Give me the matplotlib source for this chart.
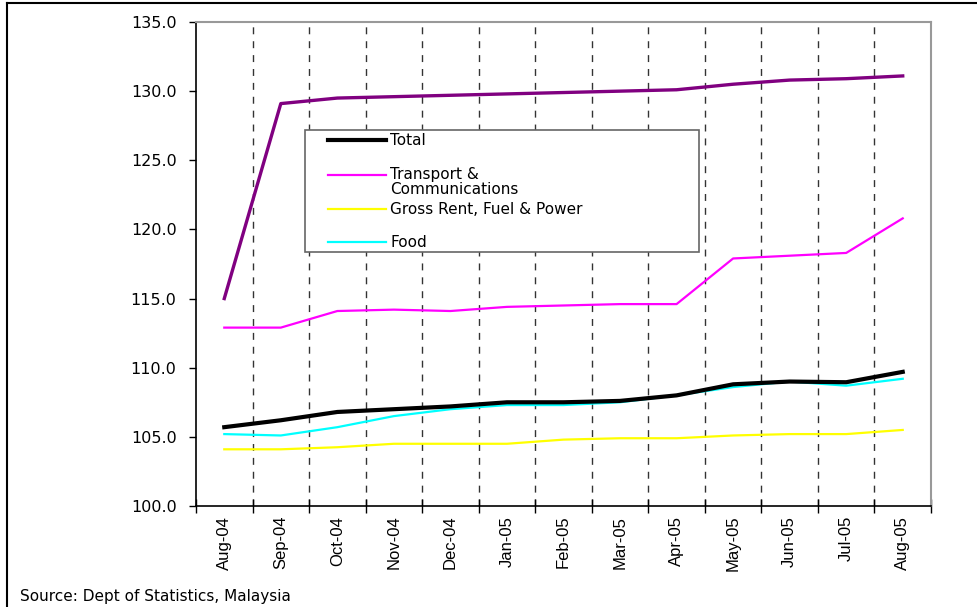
import matplotlib

matplotlib.use("Agg")
import matplotlib.pyplot as plt
from matplotlib.lines import Line2D
from matplotlib.patches import Rectangle
import numpy as np

months = ["Aug-04", "Sep-04", "Oct-04", "Nov-04", "Dec-04", "Jan-05", "Feb-05",
          "Mar-05", "Apr-05", "May-05", "Jun-05", "Jul-05", "Aug-05"]

purple = [115.0, 129.1, 129.5, 129.6, 129.7, 129.8, 129.9, 130.0, 130.1, 130.5, 130.8, 130.9, 131.1]
transport = [112.9, 112.9, 114.1, 114.2, 114.1, 114.4, 114.5, 114.6, 114.6, 117.9, 118.1, 118.3, 120.8]
total = [105.7, 106.2, 106.8, 107.0, 107.2, 107.5, 107.5, 107.6, 108.0, 108.8, 109.0, 108.95, 109.7]
food = [105.2, 105.1, 105.7, 106.5, 107.0, 107.3, 107.3, 107.5, 108.0, 108.6, 109.0, 108.7, 109.2]
rent = [104.1, 104.1, 104.25, 104.5, 104.5, 104.5, 104.8, 104.9, 104.9, 105.1, 105.2, 105.2, 105.5]

legend_labels = ["Total", "Transport &\nCommunications", "Gross Rent, Fuel & Power", "Food"]

plt.rcParams["font.family"] = ["DejaVu Sans"]

W, H = 977, 607
fig = plt.figure(figsize=(W / 100, H / 100), dpi=100)
ax = fig.add_axes([196 / W, (H - 506) / H, (931 - 196) / W, (506 - 22) / H])

x = np.arange(len(months))
ax.plot(x, purple, color="#800080", lw=2.4)
ax.plot(x, transport, color="#FF00FF", lw=1.6)
ax.plot(x, rent, color="#FFFF00", lw=1.6)
ax.plot(x, food, color="#00FFFF", lw=1.6)
ax.plot(x, total, color="black", lw=3.0)

ax.set_xlim(-0.5, len(months) - 0.5)
ax.set_ylim(100, 135)
yt = np.arange(100, 135.1, 5)
ax.set_yticks(yt)
ax.set_yticklabels([f"{v:.1f}" for v in yt], fontsize=11.5)
ax.tick_params(axis="y", direction="out", length=5, width=1, pad=9)

# ticks at category boundaries, labels at category centres
bounds = np.arange(-0.5, len(months), 1.0)
ax.set_xticks(bounds)
ax.set_xticklabels([])
ax.tick_params(axis="x", which="major", direction="inout", length=10, width=1)
ax.set_xticks(x, minor=True)
ax.set_xticklabels(months, minor=True, rotation=90, fontsize=12,
                   family=["Liberation Sans Narrow", "Liberation Sans"])
ax.tick_params(axis="x", which="minor", length=0, pad=7)

for b in bounds[1:-1]:
    ax.axvline(b, color="#333333", lw=1, ls=(0, (5, 5)), zorder=0)

for s in ["top", "right"]:
    ax.spines[s].set_color("#999999")
    ax.spines[s].set_linewidth(1.5)
for s in ["left", "bottom"]:
    ax.spines[s].set_color("black")
    ax.spines[s].set_linewidth(1.2)


def fx(px):
    return px / W


def fy(py):
    return 1 - py / H


# legend box drawn by hand to keep Excel's uneven spacing
fig.add_artist(Rectangle((fx(305), fy(252)), fx(699) - fx(305), fy(130) - fy(252),
                         transform=fig.transFigure, facecolor="white", edgecolor="#666666", lw=1.2, zorder=5))
leg_items = [("black", 3.0, 140, 140), ("#FF00FF", 1.6, 175, 167),
             ("#FFFF00", 1.6, 209, 209), ("#00FFFF", 1.6, 242, 242)]
for (col, lw, py, ty), lab in zip(leg_items, legend_labels):
    fig.add_artist(Line2D([fx(328), fx(386)], [fy(py), fy(py)], color=col, lw=lw,
                          transform=fig.transFigure, zorder=6))
    fig.text(fx(390), fy(ty), lab, ha="left", va="top" if "\n" in lab else "center",
             fontsize=11, zorder=7, linespacing=1.0)

fig.text(fx(20), fy(597), "Source: Dept of Statistics, Malaysia", ha="left", va="center", fontsize=11)

# outer frame (top and left edges)
fig.add_artist(Line2D([fx(7), 1], [fy(3), fy(3)], color="black", lw=1.5, transform=fig.transFigure))
fig.add_artist(Line2D([fx(7), fx(7)], [fy(3), 0], color="black", lw=1.5, transform=fig.transFigure))

fig.savefig("out.png", dpi=100)
